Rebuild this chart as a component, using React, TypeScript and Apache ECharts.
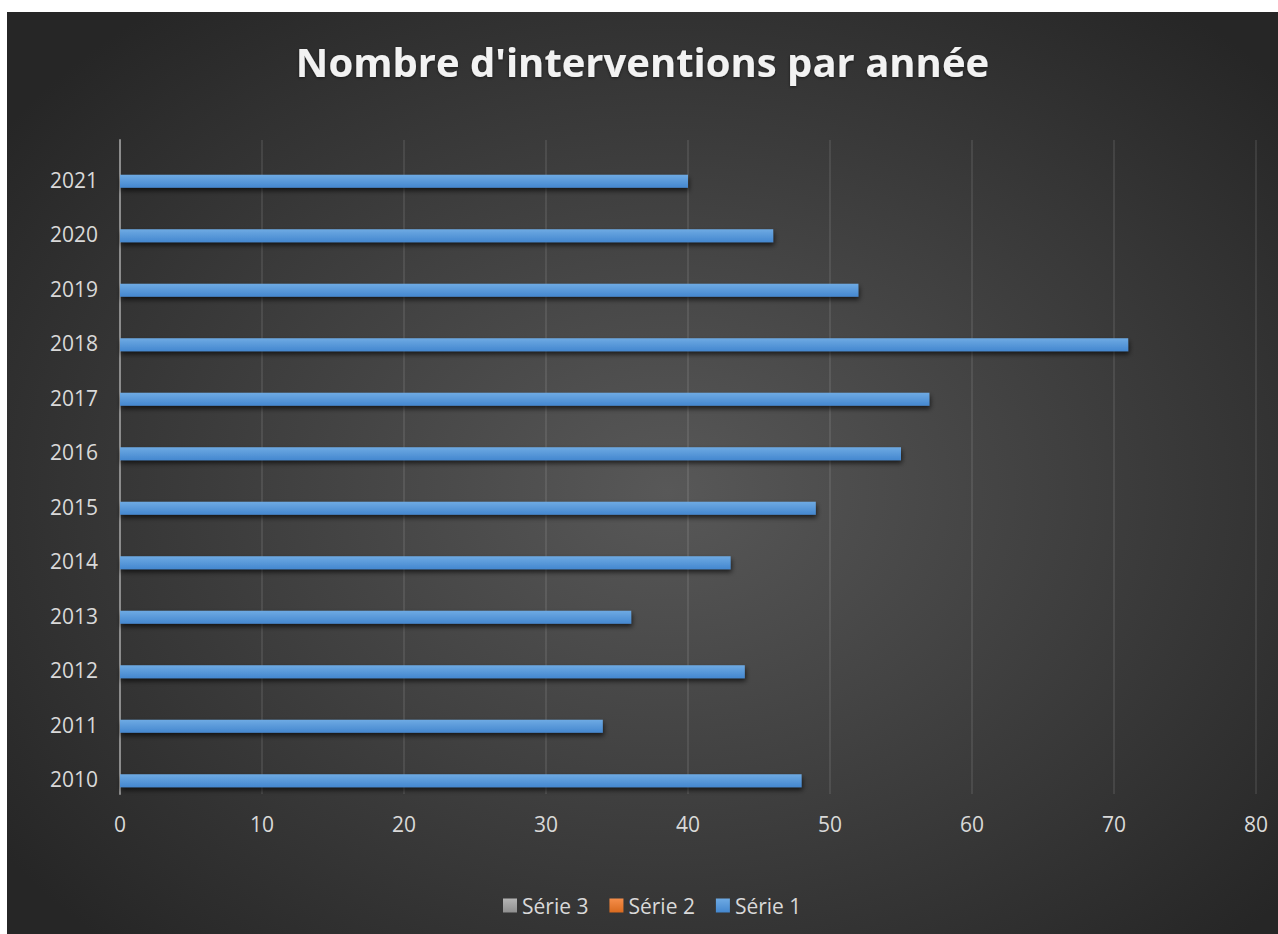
import React, { useEffect, useRef } from "react";
import * as echarts from "echarts";

const titleText = "Nombre d'interventions par année";
const categories = ["2010", "2011", "2012", "2013", "2014", "2015", "2016", "2017", "2018", "2019", "2020", "2021"];
const serie1Values = [48, 34, 44, 36, 43, 49, 55, 57, 71, 52, 46, 40];
const serie2Values: (number | null)[] = [];
const serie3Values: (number | null)[] = [];
const seriesNames = ["Série 3", "Série 2", "Série 1"];
const xMin = 0;
const xMax = 80;
const xInterval = 10;

const FONT = "'Open Sans', 'Noto Sans', sans-serif";

export default function App() {
  const ref = useRef<HTMLDivElement>(null);
  useEffect(() => {
    if (!ref.current) return;
    const chart = echarts.init(ref.current, undefined, { renderer: "svg" });
    const grad = (top: string, bottom: string) =>
      new echarts.graphic.LinearGradient(0, 0, 0, 1, [
        { offset: 0, color: top },
        { offset: 1, color: bottom },
      ]);
    const shadow = {
      shadowColor: "rgba(0,0,0,0.65)",
      shadowBlur: 5,
      shadowOffsetX: 1,
      shadowOffsetY: 3,
    };
    chart.setOption({
      animation: false,
      backgroundColor: "transparent",
      title: {
        text: titleText,
        left: "center",
        top: 24,
        textStyle: {
          color: "#f2f2f2",
          fontFamily: FONT,
          fontWeight: "bold",
          fontSize: 40,
          textShadowColor: "rgba(0,0,0,0.5)",
          textShadowBlur: 3,
          textShadowOffsetY: 1,
        },
      },
      legend: {
        data: seriesNames,
        bottom: 13,
        left: 491,
        icon: "rect",
        itemWidth: 14,
        itemHeight: 14,
        itemGap: 21,
        textStyle: { color: "#d9d9d9", fontFamily: FONT, fontSize: 21 },
      },
      grid: { left: 113, top: 128, width: 1136, height: 654, containLabel: false },
      xAxis: {
        type: "value",
        min: xMin,
        max: xMax,
        interval: xInterval,
        axisLine: { show: false },
        axisTick: { show: false },
        splitLine: { show: true, lineStyle: { color: "rgba(255,255,255,0.09)", width: 2 } },
        axisLabel: { color: "#d9d9d9", fontFamily: FONT, fontSize: 21, margin: 19 },
      },
      yAxis: {
        type: "category",
        data: categories,
        axisLine: { show: true, lineStyle: { color: "#8c8c8c", width: 2 } },
        axisTick: { show: false },
        axisLabel: {
          color: "#d9d9d9",
          fontFamily: FONT,
          fontSize: 21,
          margin: 22,
          verticalAlign: "top",
          lineHeight: 25,
        },
      },
      series: [
        {
          name: "Série 3",
          type: "bar",
          data: serie3Values,
          barWidth: 13,
          barGap: "8%",
          itemStyle: { color: grad("#b5b5b5", "#8f8f8f"), ...shadow },
        },
        {
          name: "Série 2",
          type: "bar",
          data: serie2Values,
          barWidth: 13,
          barGap: "8%",
          itemStyle: { color: grad("#f58e4a", "#d96a1f"), ...shadow },
        },
        {
          name: "Série 1",
          type: "bar",
          data: serie1Values,
          barWidth: 13,
          barGap: "8%",
          itemStyle: { color: grad("#6eaae3", "#4487cf"), ...shadow },
        },
      ],
    });
    return () => chart.dispose();
  }, []);
  return (
    <div
      ref={ref}
      style={{
        position: "absolute",
        left: 7,
        top: 12,
        width: 1271,
        height: 922,
        background: "radial-gradient(ellipse 820px 620px at 52% 52%, #585858 0%, #262626 100%)",
      }}
    />
  );
}
